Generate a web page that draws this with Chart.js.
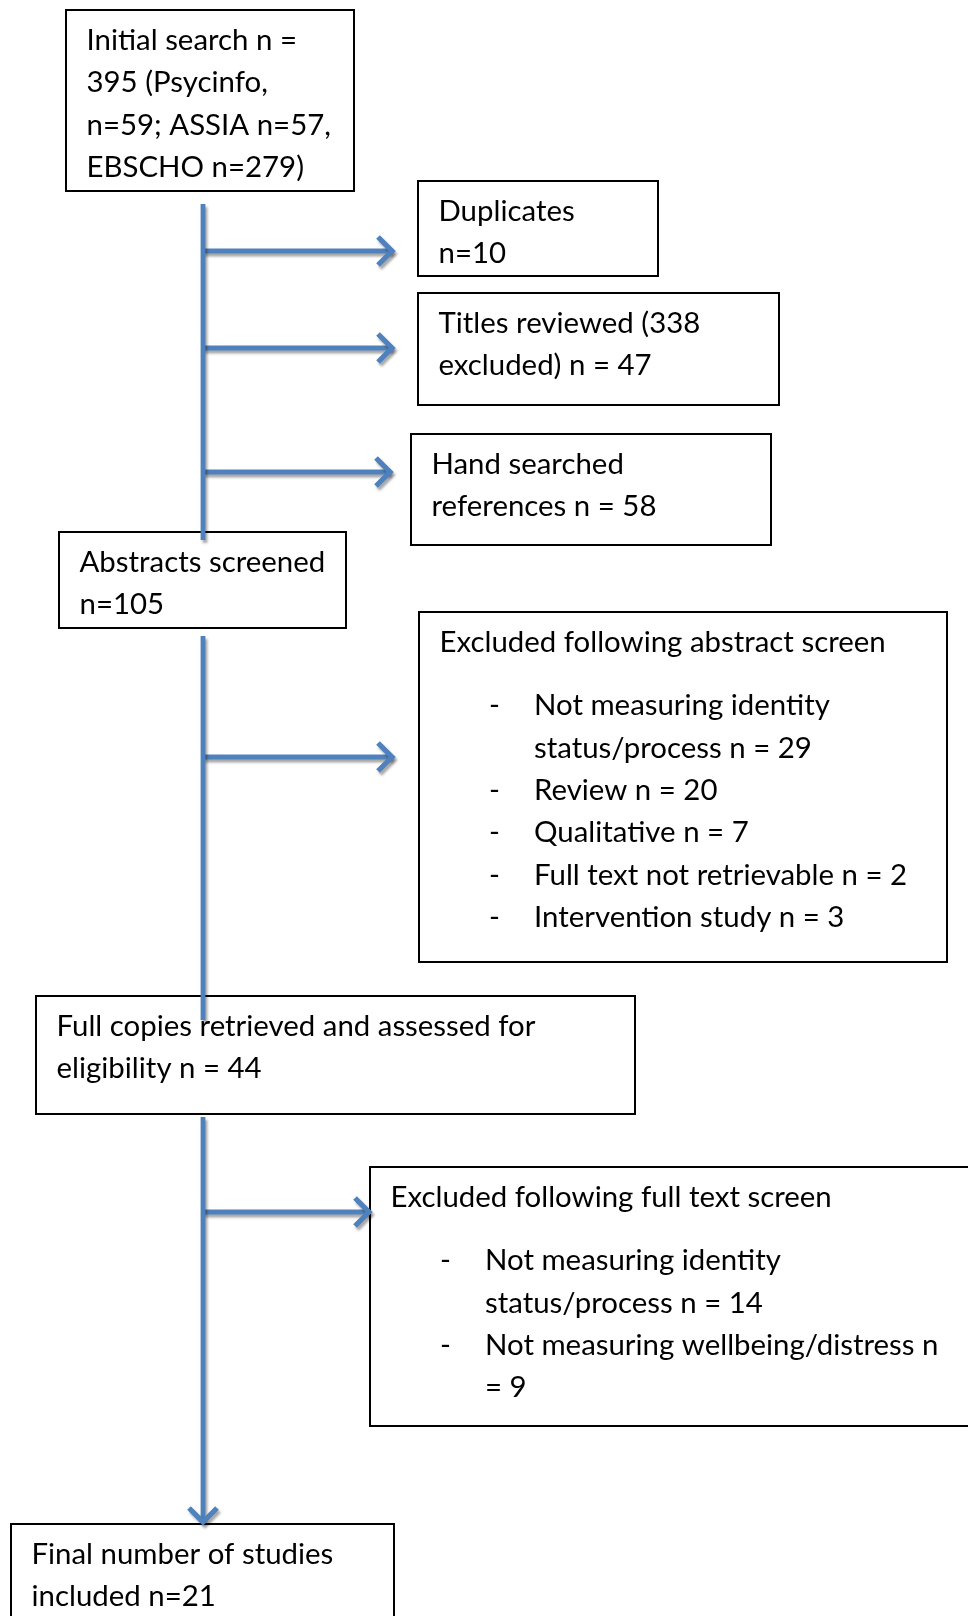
<!DOCTYPE html>
<html>
<head>
<meta charset="utf-8">
<title>Study selection flow</title>
<script src="https://cdn.jsdelivr.net/npm/chart.js@4.4.1/dist/chart.umd.min.js"></script>
<style>
  html, body { margin: 0; padding: 0; background: #fff; }
  #flow { display: block; }
</style>
</head>
<body>
<canvas id="flow" width="968" height="1616"></canvas>
<script>
// Box texts (top to bottom)
const boxLabels = [
    ['Initial search n =', '395 (Psycinfo,', 'n=59; ASSIA n=57,', 'EBSCHO n=279)'],
    ['Duplicates', 'n=10'],
    ['Titles reviewed (338', 'excluded) n = 47'],
    ['Hand searched', 'references n = 58'],
    ['Abstracts screened', 'n=105'],
    ['Excluded following abstract screen'],
    ['Full copies retrieved and assessed for', 'eligibility n = 44'],
    ['Excluded following full text screen'],
    ['Final number of studies', 'included n=21']
];

// Bullet lists inside the two exclusion boxes
const abstractExclusions = [
    ['Not measuring identity', 'status/process n = 29'],
    ['Review n = 20'],
    ['Qualitative n = 7'],
    ['Full text not retrievable n = 2'],
    ['Intervention study n = 3']
];
const fullTextExclusions = [
    ['Not measuring identity', 'status/process n = 14'],
    ['Not measuring wellbeing/distress n', '= 9']
];
const bulletsByBox = { 5: abstractExclusions, 7: fullTextExclusions };

// Layout of the boxes: [left, top, right, bottom] in page units
const boxFrames = [
    [66, 10, 354, 191],
    [418, 181, 658, 276],
    [418, 293, 779, 405],
    [411, 434, 771, 545],
    [59, 532, 346, 628],
    [419, 612, 947, 962],
    [36, 996, 635, 1114],
    [370, 1167, 990, 1426],
    [11, 1524, 394, 1640]
];

// Connectors
const trunkX = 203;
const trunkTop = [204, 636, 1117];
const trunkBottom = [540, 1020, 1522];
const branchY = [251, 348, 472, 757, 1212];
const branchTipX = [392, 392, 390, 392, 369];

const blue = '#4F81BD';
const lineGap = 42.3;
const fontFamily = 'Lato, "Open Sans", sans-serif';

// fit the font so a reference line has the same width as in the source
const measureCtx = document.createElement('canvas').getContext('2d');
measureCtx.font = '100px ' + fontFamily;
const fontSize = Math.round(100 * 446 / measureCtx.measureText('Excluded following abstract screen').width * 10) / 10;

const datasets = [];
trunkTop.forEach(function(top, i) {
    datasets.push({
        data: [{ x: trunkX, y: top }, { x: trunkX, y: trunkBottom[i] }],
        arrow: i === trunkTop.length - 1 ? 'down' : null
    });
});
branchY.forEach(function(y, i) {
    datasets.push({
        data: [{ x: trunkX, y: y }, { x: branchTipX[i], y: y }],
        arrow: 'right'
    });
});
datasets.forEach(function(ds) {
    ds.showLine = true;
    ds.borderColor = blue;
    ds.borderWidth = 4.8;
    ds.pointRadius = 0;
    ds.borderCapStyle = 'butt';
});

function setShadow(ctx) {
    ctx.shadowColor = 'rgba(0,0,0,0.35)';
    ctx.shadowOffsetX = 2;
    ctx.shadowOffsetY = 3;
    ctx.shadowBlur = 2.5;
}

// boxes and their text
const flowBoxes = {
    id: 'flowBoxes',
    beforeDatasetsDraw(chart) {
        const ctx = chart.ctx;
        const xs = chart.scales.x;
        const ys = chart.scales.y;
        ctx.save();
        ctx.font = fontSize + 'px ' + fontFamily;
        ctx.textBaseline = 'alphabetic';
        ctx.textAlign = 'left';
        boxFrames.forEach(function(f, i) {
            const l = xs.getPixelForValue(f[0]);
            const t = ys.getPixelForValue(f[1]);
            const r = xs.getPixelForValue(f[2]);
            const b = ys.getPixelForValue(f[3]);
            ctx.fillStyle = '#fff';
            ctx.fillRect(l, t, r - l, b - t);
            ctx.strokeStyle = '#000';
            ctx.lineWidth = 2;
            ctx.strokeRect(l, t, r - l, b - t);

            ctx.fillStyle = '#000';
            const textX = xs.getPixelForValue(f[0] + 20.5);
            let lineY = f[1] + 31;
            boxLabels[i].forEach(function(txt) {
                ctx.fillText(txt, textX, ys.getPixelForValue(lineY + 9));
                lineY += lineGap;
            });
            const bullets = bulletsByBox[i];
            if (bullets) {
                lineY += 21;
                bullets.forEach(function(item) {
                    ctx.fillText('-', xs.getPixelForValue(f[0] + 70), ys.getPixelForValue(lineY + 9));
                    item.forEach(function(txt) {
                        ctx.fillText(txt, xs.getPixelForValue(f[0] + 115), ys.getPixelForValue(lineY + 9));
                        lineY += lineGap;
                    });
                });
            }
        });
        ctx.restore();
        ctx.save();
        setShadow(ctx);
    },
    afterDatasetsDraw(chart) {
        const ctx = chart.ctx;
        chart.data.datasets.forEach(function(ds, i) {
            if (!ds.arrow) return;
            const pts = chart.getDatasetMeta(i).data;
            const tip = pts[pts.length - 1];
            const s = 14;
            ctx.beginPath();
            if (ds.arrow === 'right') {
                ctx.moveTo(tip.x - s, tip.y - s);
                ctx.lineTo(tip.x, tip.y);
                ctx.lineTo(tip.x - s, tip.y + s);
            } else {
                ctx.moveTo(tip.x - s, tip.y - s);
                ctx.lineTo(tip.x, tip.y);
                ctx.lineTo(tip.x + s, tip.y - s);
            }
            ctx.strokeStyle = blue;
            ctx.lineWidth = 5.2;
            ctx.lineJoin = 'miter';
            ctx.lineCap = 'butt';
            ctx.stroke();
        });
        ctx.restore();
    }
};

new Chart(document.getElementById('flow'), {
    type: 'scatter',
    data: { datasets: datasets },
    options: {
        responsive: false,
        animation: false,
        events: [],
        layout: { padding: 0 },
        plugins: {
            legend: { display: false },
            tooltip: { enabled: false }
        },
        scales: {
            x: { type: 'linear', min: 0, max: 968, display: false },
            y: { type: 'linear', min: 0, max: 1616, reverse: true, display: false }
        }
    },
    plugins: [flowBoxes]
});
</script>
</body>
</html>
